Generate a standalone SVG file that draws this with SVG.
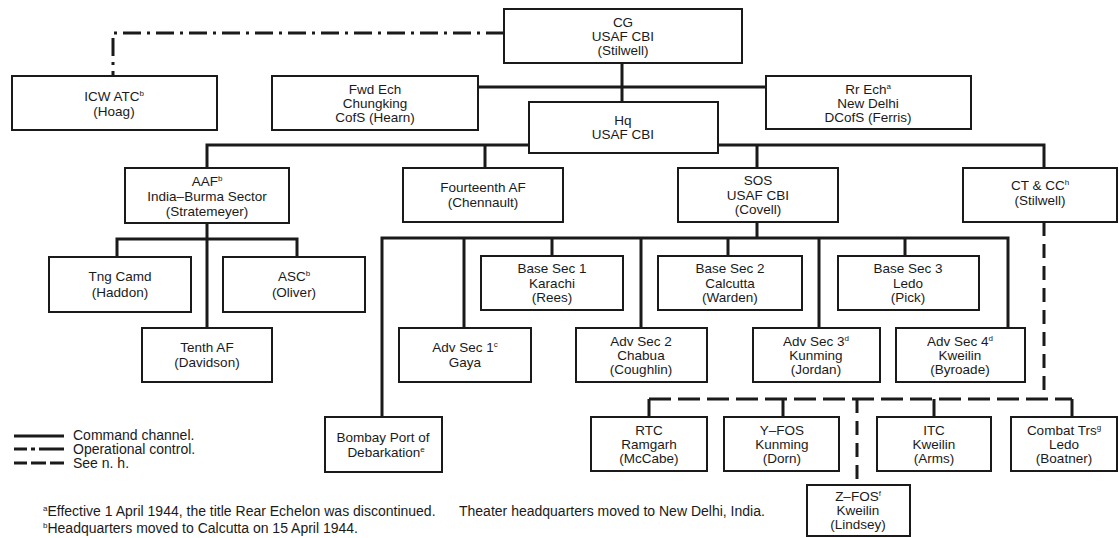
<svg xmlns="http://www.w3.org/2000/svg" width="1119" height="538" viewBox="0 0 1119 538">
<style>
.box{fill:#fff;stroke:#1a1a1a;stroke-width:2}
.t{font-family:"Liberation Sans",Arial,sans-serif;font-size:13.5px;fill:#1a1a1a;text-anchor:middle}
.f{font-family:"Liberation Sans",Arial,sans-serif;font-size:14px;fill:#1a1a1a}
.sup{font-size:8px}
.cmd{stroke:#1a1a1a;stroke-width:3;fill:none}
.op{stroke:#1a1a1a;stroke-width:3;fill:none;stroke-dasharray:18 6 3 6}
.nh{stroke:#1a1a1a;stroke-width:3;fill:none;stroke-dasharray:14 8}
.nhh{stroke:#1a1a1a;stroke-width:3;fill:none;stroke-dasharray:22 7}
</style>
<rect width="1119" height="538" fill="#fff"/>
<g id="connectors">
<path class="cmd" d="M622 63V102M478 87H766M529 145H207V168M485 145V168M718 145H1044V168M757 145V168M207 223V328M117 257V239H297V257M757 222V238M382 417V238H1008V328M464 238V328M552 238V256M641 238V328M728 238V256M819 238V328M905 238V256"/>
<path class="op" d="M504 33H113V76"/>
<path class="nh" d="M1044 222V399M857 399V485"/>
<path class="nhh" d="M649 399H1072"/>
<path class="cmd" d="M649 399V417M783 399V417M934 399V417M1072 399V417"/>
</g>
<g id="cg"><rect class="box" x="504" y="9" width="238" height="54"/><text class="t" x="623"><tspan x="623" y="27">CG</tspan><tspan x="623" y="41">USAF CBI</tspan><tspan x="623" y="55">(Stilwell)</tspan></text></g>
<g id="icw"><rect class="box" x="12" y="76" width="205" height="54"/><text class="t" x="114" y="101">ICW ATC<tspan class="sup" dy="-5">b</tspan></text><text class="t" x="114" y="116">(Hoag)</text></g>
<g id="fwd"><rect class="box" x="272" y="76" width="206" height="54"/><text class="t"><tspan x="375" y="94">Fwd Ech</tspan><tspan x="375" y="108">Chungking</tspan><tspan x="375" y="122">CofS (Hearn)</tspan></text></g>
<g id="rr"><rect class="box" x="766" y="76" width="205" height="53"/><text class="t" x="868" y="94">Rr Ech<tspan class="sup" dy="-5">a</tspan></text><text class="t"><tspan x="868" y="108">New Delhi</tspan><tspan x="868" y="122">DCofS (Ferris)</tspan></text></g>
<g id="hq"><rect class="box" x="529" y="102" width="189" height="51"/><text class="t"><tspan x="623" y="125">Hq</tspan><tspan x="623" y="139">USAF CBI</tspan></text></g>
<g id="aaf"><rect class="box" x="125" y="168" width="164" height="55"/><text class="t" x="207" y="186">AAF<tspan class="sup" dy="-5">b</tspan></text><text class="t"><tspan x="207" y="201">India–Burma Sector</tspan><tspan x="207" y="216">(Stratemeyer)</tspan></text></g>
<g id="fourteenth"><rect class="box" x="403" y="168" width="160" height="54"/><text class="t"><tspan x="483" y="192">Fourteenth AF</tspan><tspan x="483" y="207">(Chennault)</tspan></text></g>
<g id="sos"><rect class="box" x="678" y="168" width="160" height="54"/><text class="t"><tspan x="758" y="185">SOS</tspan><tspan x="758" y="200">USAF CBI</tspan><tspan x="758" y="214">(Covell)</tspan></text></g>
<g id="ctcc"><rect class="box" x="963" y="168" width="154" height="54"/><text class="t" x="1040" y="190">CT &amp; CC<tspan class="sup" dy="-5">h</tspan></text><text class="t" x="1040" y="205">(Stilwell)</text></g>
<g id="tng"><rect class="box" x="49" y="257" width="142" height="55"/><text class="t"><tspan x="120" y="281">Tng Camd</tspan><tspan x="120" y="297">(Haddon)</tspan></text></g>
<g id="asc"><rect class="box" x="223" y="257" width="142" height="55"/><text class="t" x="294" y="281">ASC<tspan class="sup" dy="-5">b</tspan></text><text class="t" x="294" y="297">(Oliver)</text></g>
<g id="tenth"><rect class="box" x="142" y="328" width="130" height="54"/><text class="t"><tspan x="207" y="352">Tenth AF</tspan><tspan x="207" y="367">(Davidson)</tspan></text></g>
<g id="base1"><rect class="box" x="481" y="256" width="142" height="54"/><text class="t"><tspan x="552" y="273">Base Sec 1</tspan><tspan x="552" y="288">Karachi</tspan><tspan x="552" y="302">(Rees)</tspan></text></g>
<g id="base2"><rect class="box" x="658" y="256" width="144" height="54"/><text class="t"><tspan x="730" y="273">Base Sec 2</tspan><tspan x="730" y="288">Calcutta</tspan><tspan x="730" y="302">(Warden)</tspan></text></g>
<g id="base3"><rect class="box" x="838" y="256" width="141" height="54"/><text class="t"><tspan x="908" y="273">Base Sec 3</tspan><tspan x="908" y="288">Ledo</tspan><tspan x="908" y="302">(Pick)</tspan></text></g>
<g id="adv1"><rect class="box" x="399" y="328" width="132" height="54"/><text class="t" x="465" y="352">Adv Sec 1<tspan class="sup" dy="-5">c</tspan></text><text class="t" x="465" y="367">Gaya</text></g>
<g id="adv2"><rect class="box" x="576" y="328" width="131" height="54"/><text class="t"><tspan x="641" y="346">Adv Sec 2</tspan><tspan x="641" y="360">Chabua</tspan><tspan x="641" y="374">(Coughlin)</tspan></text></g>
<g id="adv3"><rect class="box" x="753" y="328" width="127" height="54"/><text class="t" x="816" y="346">Adv Sec 3<tspan class="sup" dy="-5">d</tspan></text><text class="t"><tspan x="816" y="360">Kunming</tspan><tspan x="816" y="374">(Jordan)</tspan></text></g>
<g id="adv4"><rect class="box" x="896" y="328" width="129" height="54"/><text class="t" x="960" y="346">Adv Sec 4<tspan class="sup" dy="-5">d</tspan></text><text class="t"><tspan x="960" y="360">Kweilin</tspan><tspan x="960" y="374">(Byroade)</tspan></text></g>
<g id="bombay"><rect class="box" x="325" y="417" width="117" height="55"/><text class="t" x="383" y="442">Bombay Port of</text><text class="t" x="386" y="457">Debarkation<tspan class="sup" dy="-5">e</tspan></text></g>
<g id="rtc"><rect class="box" x="591" y="417" width="116" height="54"/><text class="t"><tspan x="649" y="435">RTC</tspan><tspan x="649" y="449">Ramgarh</tspan><tspan x="649" y="463">(McCabe)</tspan></text></g>
<g id="yfos"><rect class="box" x="724" y="417" width="115" height="54"/><text class="t"><tspan x="782" y="435">Y–FOS</tspan><tspan x="782" y="449">Kunming</tspan><tspan x="782" y="463">(Dorn)</tspan></text></g>
<g id="itc"><rect class="box" x="877" y="417" width="114" height="54"/><text class="t"><tspan x="934" y="435">ITC</tspan><tspan x="934" y="449">Kweilin</tspan><tspan x="934" y="463">(Arms)</tspan></text></g>
<g id="combat"><rect class="box" x="1011" y="417" width="106" height="54"/><text class="t" x="1064" y="435">Combat Trs<tspan class="sup" dy="-5">g</tspan></text><text class="t"><tspan x="1064" y="449">Ledo</tspan><tspan x="1064" y="463">(Boatner)</tspan></text></g>
<g id="zfos"><rect class="box" x="807" y="485" width="103" height="51"/><text class="t" x="858" y="501">Z–FOS<tspan class="sup" dy="-5">f</tspan></text><text class="t"><tspan x="858" y="515">Kweilin</tspan><tspan x="858" y="529">(Lindsey)</tspan></text></g>
<g id="legend">
<path class="cmd" d="M14 436H64"/>
<path stroke="#1a1a1a" stroke-width="3" fill="none" d="M14 449H27M31 449H35M39 449H64"/>
<path stroke="#1a1a1a" stroke-width="3" fill="none" d="M14 463H27M31 463H46M50 463H64"/>
<text class="f" x="73" y="440">Command channel.</text>
<text class="f" x="73" y="454">Operational control.</text>
<text class="f" x="73" y="468">See n. h.</text>
</g>
<g id="footnotes">
<text class="f" x="43" y="516"><tspan class="sup" dy="-5">a</tspan><tspan dy="5">Effective 1 April 1944, the title Rear Echelon was discontinued.</tspan></text>
<text class="f" x="459" y="516">Theater headquarters moved to New Delhi, India.</text>
<text class="f" x="43" y="533"><tspan class="sup" dy="-5">b</tspan><tspan dy="5">Headquarters moved to Calcutta on 15 April 1944.</tspan></text>
</g>
</svg>
